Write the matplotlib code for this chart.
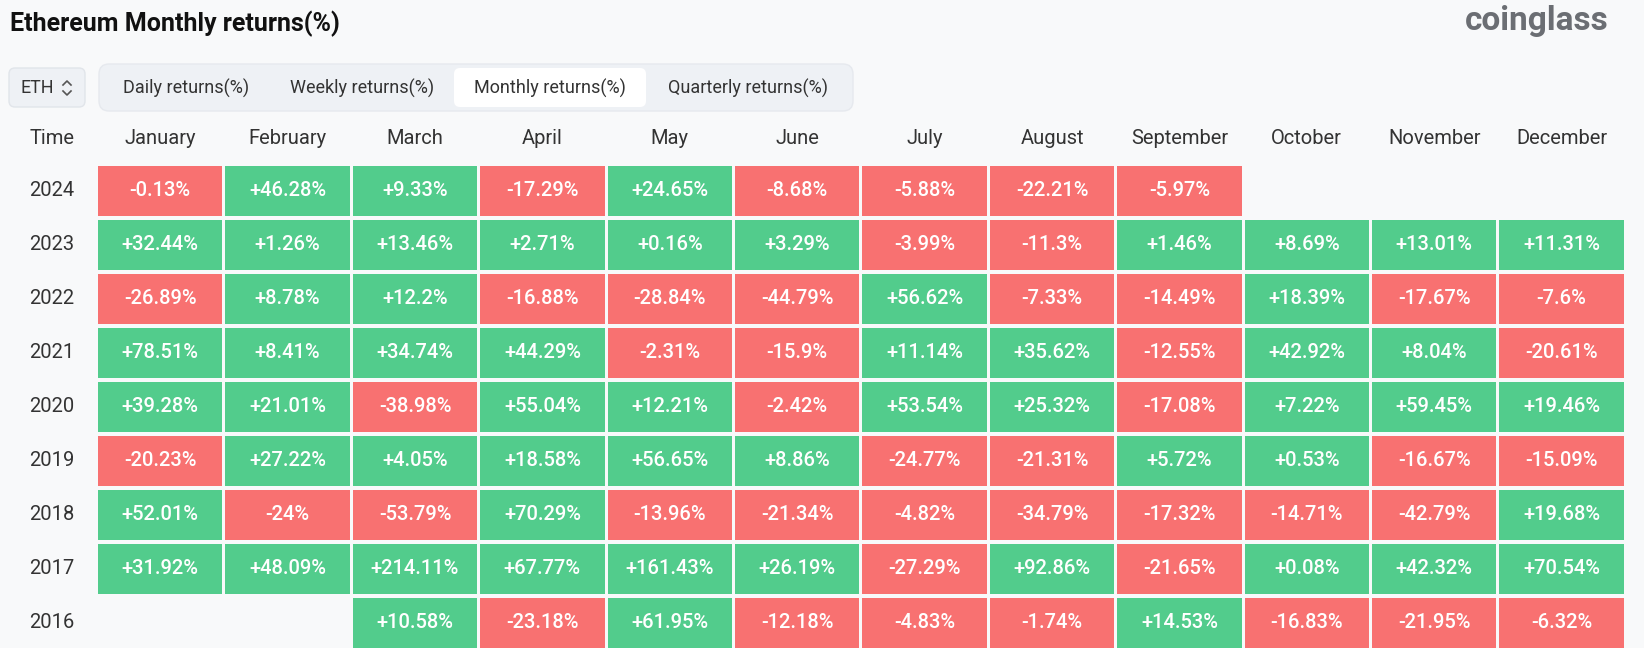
import matplotlib
matplotlib.use("Agg")
import matplotlib.pyplot as plt
from matplotlib.patches import Rectangle, FancyBboxPatch

# data
months = ["January", "February", "March", "April", "May", "June", "July",
          "August", "September", "October", "November", "December"]
years = ["2024", "2023", "2022", "2021", "2020", "2019", "2018", "2017", "2016"]
r2024 = [-0.13, 46.28, 9.33, -17.29, 24.65, -8.68, -5.88, -22.21, -5.97, None, None, None]
r2023 = [32.44, 1.26, 13.46, 2.71, 0.16, 3.29, -3.99, -11.3, 1.46, 8.69, 13.01, 11.31]
r2022 = [-26.89, 8.78, 12.2, -16.88, -28.84, -44.79, 56.62, -7.33, -14.49, 18.39, -17.67, -7.6]
r2021 = [78.51, 8.41, 34.74, 44.29, -2.31, -15.9, 11.14, 35.62, -12.55, 42.92, 8.04, -20.61]
r2020 = [39.28, 21.01, -38.98, 55.04, 12.21, -2.42, 53.54, 25.32, -17.08, 7.22, 59.45, 19.46]
r2019 = [-20.23, 27.22, 4.05, 18.58, 56.65, 8.86, -24.77, -21.31, 5.72, 0.53, -16.67, -15.09]
r2018 = [52.01, -24, -53.79, 70.29, -13.96, -21.34, -4.82, -34.79, -17.32, -14.71, -42.79, 19.68]
r2017 = [31.92, 48.09, 214.11, 67.77, 161.43, 26.19, -27.29, 92.86, -21.65, 0.08, 42.32, 70.54]
r2016 = [None, None, 10.58, -23.18, 61.95, -12.18, -4.83, -1.74, 14.53, -16.83, -21.95, -6.32]
returns = [r2024, r2023, r2022, r2021, r2020, r2019, r2018, r2017, r2016]
tabs = ["Daily returns(%)", "Weekly returns(%)", "Monthly returns(%)", "Quarterly returns(%)"]

# styles
W, H = 1644, 648
bg = "#f8f9fa"
green = "#52cc8c"
red = "#f87171"
txt = "#333333"
ui_font = ["Roboto", "DejaVu Sans"]
cell_font = ["Roboto", "DejaVu Sans"]

fig = plt.figure(figsize=(W / 100, H / 100), dpi=100, facecolor=bg)

# background / header area in pixel coords
ax0 = fig.add_axes([0, 0, 1, 1])
ax0.set_xlim(0, W)
ax0.set_ylim(H, 0)
ax0.axis("off")

ax0.text(10, 24, "Ethereum Monthly returns(%)", fontsize=18, fontweight="bold",
         color="#111111", family=ui_font, va="center", ha="left")
ax0.text(1609, 21, "coinglass", fontsize=24, fontweight="bold", color="#6b6e73",
         family=ui_font, va="center", ha="right")

# ETH selector
ax0.add_patch(FancyBboxPatch((9, 68), 76, 39, boxstyle="round,pad=0,rounding_size=6",
                             fc="#eef1f5", ec="#e1e5ea", lw=1))
ax0.text(20, 88, "ETH", fontsize=13, color=txt, family=ui_font,
         va="center", ha="left")
ax0.plot([63, 67, 71], [85, 81, 85], color="#555555", lw=1.2)
ax0.plot([63, 67, 71], [91, 95, 91], color="#555555", lw=1.2)

# tab bar
ax0.add_patch(FancyBboxPatch((99, 64), 754, 47, boxstyle="round,pad=0,rounding_size=10",
                             fc="#eef1f5", ec="#e6e9ee", lw=1))
ax0.add_patch(FancyBboxPatch((454, 68), 192, 39, boxstyle="round,pad=0,rounding_size=6",
                             fc="white", ec="none"))
tab_x = [186, 362, 550, 748]
for x, t in zip(tab_x, tabs):
    ax0.text(x, 88, t, fontsize=13, color=txt, family=ui_font,
             va="center", ha="center")

# table
left, top, pitch_x, pitch_y = 98, 166, 127.4, 54
nrow, ncol = len(years), len(months)
tw, th = pitch_x * ncol, pitch_y * nrow
ax = fig.add_axes([left / W, (H - top - th) / H, tw / W, th / H])
ax.set_xlim(0, ncol)
ax.set_ylim(nrow, 0)
ax.axis("off")
ax.patch.set_alpha(0)

gx = 3 / pitch_x
gy = 4 / pitch_y
cw, ch = 1 - gx, 1 - gy

for j, m in enumerate(months):
    ax.text(j + cw / 2, (138 - top) / pitch_y, m, fontsize=14.5, color=txt,
            family=ui_font, ha="center", va="center", clip_on=False)
ax.text((52 - left) / pitch_x, (138 - top) / pitch_y, "Time", fontsize=14.5, color=txt,
        family=ui_font, ha="center", va="center", clip_on=False)

for i, (yr, row) in enumerate(zip(years, returns)):
    ax.text((52 - left) / pitch_x, i + ch / 2, yr, fontsize=14.5, color=txt,
            family=ui_font, ha="center", va="center", clip_on=False)
    for j, v in enumerate(row):
        if v is None:
            continue
        ax.add_patch(Rectangle((j, i), cw, ch, fc=green if v >= 0 else red, ec="none",
                               clip_on=False))
        ax.text(j + cw / 2, i + ch / 2, f"{v:+g}%", fontsize=14.5, color="white",
                family=cell_font, fontweight="medium", ha="center", va="center",
                clip_on=False)

fig.savefig("out.png", dpi=100, facecolor=bg)
